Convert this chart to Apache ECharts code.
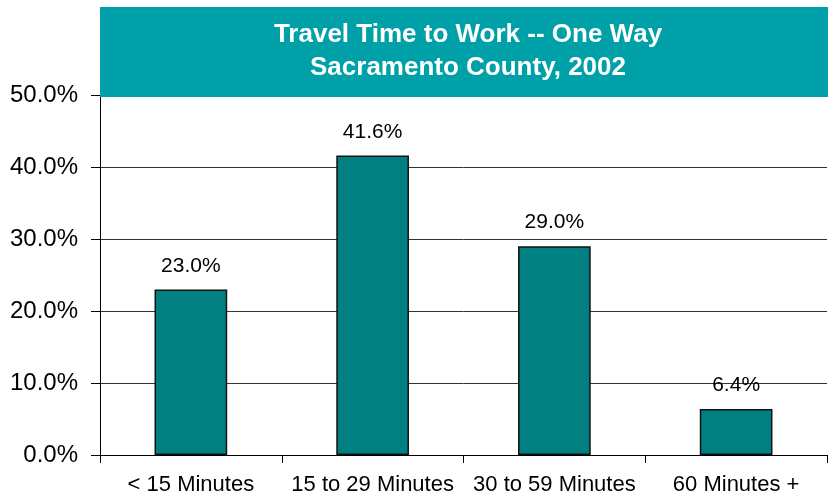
<!DOCTYPE html>
<html>
<head>
<meta charset="utf-8">
<script src="https://cdn.jsdelivr.net/npm/echarts@6/dist/echarts.min.js"></script>
<style>
	html, body { margin: 0; padding: 0; background: #fff; }
	#main { width: 828px; height: 498px; }
</style>
</head>
<body>
<div id="main"></div>
<script>
// data
var categories = ['< 15 Minutes', '15 to 29 Minutes', '30 to 59 Minutes', '60 Minutes +'];
var shares = [23.0, 41.6, 29.0, 6.4];
var titleLines = ['Travel Time to Work -- One Way', 'Sacramento County, 2002'];

var myChart = echarts.init(document.getElementById('main'));

var option = {
	backgroundColor: '#ffffff',
	animation: false,
	grid: {
		left: 100,
		right: 1,
		top: 95,
		bottom: 43
	},
	xAxis: {
		type: 'category',
		data: categories,
		axisLine: { show: true, lineStyle: { color: '#000', width: 1 } },
		axisTick: { show: true, length: 8, interval: 0, lineStyle: { color: '#000' } },
		axisLabel: {
			interval: 0,
			margin: 19,
			color: '#000',
			fontSize: 22,
			fontFamily: 'Liberation Sans, Arial, sans-serif'
		}
	},
	yAxis: {
		type: 'value',
		min: 0,
		max: 50,
		interval: 10,
		axisLine: { show: true, lineStyle: { color: '#000', width: 1 } },
		axisTick: { show: true, length: 9, lineStyle: { color: '#000' } },
		axisLabel: {
			margin: 22,
			color: '#000',
			fontSize: 24,
			fontFamily: 'Liberation Sans, Arial, sans-serif',
			formatter: function(v) {
				return v.toFixed(1) + '%';
			}
		},
		splitLine: { show: true, lineStyle: { color: '#333', width: 1 } }
	},
	series: [{
		type: 'bar',
		data: shares,
		barWidth: '40%',
		itemStyle: {
			color: '#008080',
			borderColor: '#111',
			borderWidth: 1.5
		},
		label: {
			show: true,
			position: 'top',
			distance: 13,
			color: '#000',
			fontSize: 21,
			fontFamily: 'Liberation Sans, Arial, sans-serif',
			formatter: function(p) {
				return p.value.toFixed(1) + '%';
			}
		}
	}],
	graphic: [{
		type: 'rect',
		z: 100,
		shape: { x: 100, y: 7, width: 728, height: 90 },
		style: { fill: '#00A0A8' }
	}, {
		type: 'text',
		z: 101,
		x: 468,
		y: 51,
		style: {
			text: titleLines.join('\n'),
			fill: '#fff',
			font: 'bold 26px "Liberation Sans", Arial, sans-serif',
			lineHeight: 33,
			align: 'center',
			verticalAlign: 'middle'
		}
	}]
};

myChart.setOption(option);
</script>
</body>
</html>
